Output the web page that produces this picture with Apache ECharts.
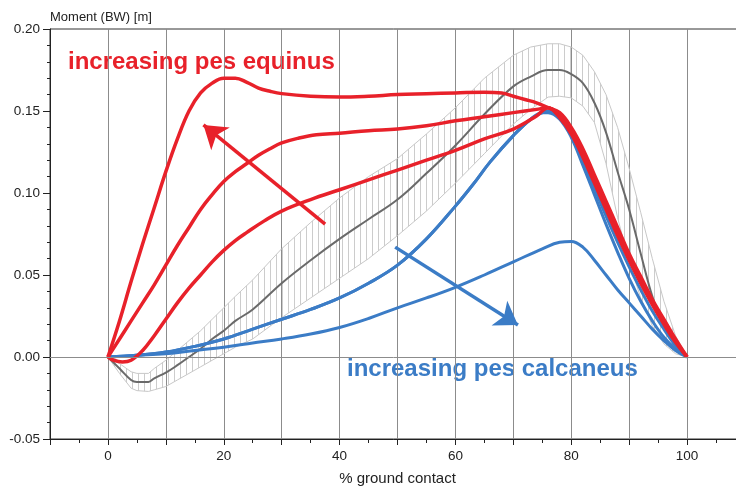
<!DOCTYPE html>
<html>
<head>
<meta charset="utf-8">
<script src="https://cdn.jsdelivr.net/npm/echarts@6/dist/echarts.min.js"></script>
<style>
  html, body { margin: 0; padding: 0; background: #fff; }
  #chart { width: 736px; height: 487px; }
</style>
</head>
<body>
<div id="chart"></div>
<script>
// x = % ground contact, y = moment (BW) [m]

// normal gait: mean and SD band
var normX = [0, 2, 4, 5, 7, 8, 10, 12, 14, 16, 18, 20, 22, 25, 30, 35, 40, 45, 50, 55, 60, 65, 70, 73, 76, 78, 80, 82, 84, 86, 88, 90, 92, 94, 96, 98, 100];
var normMean = [0, -0.007, -0.014, -0.0152, -0.0152, -0.013, -0.0095, -0.005, 0.000, 0.005, 0.011, 0.016, 0.022, 0.029, 0.045, 0.059, 0.072, 0.084, 0.096, 0.112, 0.129, 0.148, 0.165, 0.171, 0.175, 0.175, 0.1725, 0.167, 0.155, 0.137, 0.113, 0.090, 0.063, 0.037, 0.018, 0.007, 0];
var normLow = [0, -0.010, -0.019, -0.0205, -0.021, -0.020, -0.018, -0.014, -0.010, -0.006, -0.002, 0.002, 0.006, 0.011, 0.024, 0.036, 0.048, 0.060, 0.074, 0.089, 0.106, 0.124, 0.142, 0.151, 0.1585, 0.159, 0.158, 0.153, 0.143, 0.118, 0.085, 0.058, 0.036, 0.019, 0.008, 0.002, 0];
var normHigh = [0, -0.004, -0.009, -0.010, -0.010, -0.007, -0.002, 0.004, 0.010, 0.016, 0.023, 0.030, 0.037, 0.047, 0.066, 0.082, 0.097, 0.110, 0.121, 0.136, 0.152, 0.170, 0.184, 0.189, 0.191, 0.191, 0.189, 0.184, 0.174, 0.160, 0.140, 0.115, 0.088, 0.060, 0.034, 0.013, 0];

// pes equinus curves (red)
var equinus1X = [0, 2, 4, 6, 8, 10, 12, 14, 16, 18, 20, 22, 24, 26, 28, 30, 35, 40, 45, 50, 55, 60, 65, 68, 70, 72, 74, 76, 78, 80, 82, 84, 86, 88, 90, 92, 94, 96, 98, 100];
var equinus1Y = [0, 0.022, 0.046, 0.069, 0.091, 0.113, 0.133, 0.150, 0.161, 0.167, 0.170, 0.170, 0.1675, 0.164, 0.162, 0.1606, 0.159, 0.1585, 0.159, 0.160, 0.1605, 0.161, 0.1615, 0.161, 0.159, 0.157, 0.155, 0.152, 0.149, 0.140, 0.127, 0.111, 0.095, 0.079, 0.063, 0.049, 0.035, 0.023, 0.011, 0];
var equinus2X = [0, 2, 4, 6, 8, 10, 12, 14, 16, 18, 20, 22, 24, 26, 28, 30, 33, 36, 40, 45, 50, 55, 60, 65, 70, 74, 76, 78, 80, 82, 84, 86, 88, 90, 92, 94, 96, 98, 100];
var equinus2Y = [0, 0.011, 0.022, 0.033, 0.044, 0.056, 0.068, 0.079, 0.090, 0.099, 0.107, 0.113, 0.118, 0.123, 0.127, 0.1305, 0.1335, 0.1355, 0.1365, 0.138, 0.139, 0.141, 0.144, 0.1465, 0.149, 0.151, 0.152, 0.147, 0.138, 0.124, 0.108, 0.092, 0.076, 0.061, 0.047, 0.034, 0.022, 0.010, 0];
var equinus3X = [0, 1, 2.5, 4, 6, 8, 10, 12, 14, 16, 18, 20, 22, 24, 27, 30, 35, 40, 45, 50, 55, 60, 65, 70, 74, 76, 78, 80, 82, 84, 86, 88, 90, 92, 94, 96, 98, 100];
var equinus3Y = [0, -0.002, -0.003, -0.002, 0.004, 0.013, 0.023, 0.033, 0.042, 0.050, 0.058, 0.065, 0.071, 0.076, 0.083, 0.089, 0.096, 0.102, 0.108, 0.114, 0.120, 0.126, 0.133, 0.139, 0.147, 0.152, 0.146, 0.136, 0.122, 0.106, 0.090, 0.074, 0.059, 0.045, 0.032, 0.020, 0.009, 0];

// pes calcaneus curves (blue)
var calcaneusX = [0, 5, 10, 15, 20, 25, 30, 35, 40, 45, 50, 55, 60, 63, 66, 70, 73, 75, 76, 78, 80, 82, 84, 86, 88, 90, 92, 94, 96, 98, 100];
var calcaneus1Y = [0, 0.001, 0.003, 0.0065, 0.011, 0.017, 0.023, 0.029, 0.036, 0.045, 0.056, 0.072, 0.092, 0.105, 0.119, 0.135, 0.145, 0.149, 0.149, 0.145, 0.134, 0.117, 0.099, 0.081, 0.064, 0.048, 0.034, 0.022, 0.012, 0.005, 0];
var calcaneus3Y = [0, 0.001, 0.003, 0.0065, 0.011, 0.017, 0.023, 0.029, 0.036, 0.045, 0.056, 0.072, 0.092, 0.105, 0.119, 0.135, 0.145, 0.149, 0.150, 0.146, 0.136, 0.120, 0.103, 0.086, 0.070, 0.055, 0.041, 0.028, 0.017, 0.007, 0];
var calcaneus2X = [0, 5, 10, 15, 20, 25, 30, 35, 40, 45, 50, 55, 60, 65, 70, 75, 78, 80, 82, 84, 86, 88, 90, 92, 94, 96, 98, 100];
var calcaneus2Y = [0, 0.001, 0.002, 0.004, 0.006, 0.0085, 0.011, 0.014, 0.018, 0.0235, 0.030, 0.036, 0.0425, 0.050, 0.058, 0.066, 0.070, 0.0705, 0.067, 0.059, 0.050, 0.041, 0.033, 0.025, 0.017, 0.010, 0.004, 0];

// annotation arrows [x, y] tail and tip
var equinusArrow = [[37.5, 0.081], [16.5, 0.1415]];
var calcaneusArrow = [[49.6, 0.067], [70.8, 0.0195]];

var RED = '#e8212a';
var BLUE = '#3b7cc6';
var FONT = '"Liberation Sans", Arial, sans-serif';

function pairs(xs, ys) {
    return xs.map(function (x, i) { return [x, ys[i]]; });
}

// vertical hatching for the SD band
var hatch = document.createElement('canvas');
hatch.width = 6;
hatch.height = 4;
var hctx = hatch.getContext('2d');
hctx.fillStyle = '#cccccc';
hctx.fillRect(0, 0, 1, 4);

function curve(name, xs, ys, color, width, smooth) {
    return {
        name: name,
        type: 'line',
        data: pairs(xs, ys),
        showSymbol: false,
        smooth: smooth === undefined ? 0.4 : smooth,
        lineStyle: { color: color, width: width },
        silent: true
    };
}

var chart = echarts.init(document.getElementById('chart'));

var redTop = curve('equinus1', equinus1X, equinus1Y, RED, 3.5);
redTop.markLine = {
    silent: true,
    symbol: ['none', 'arrow'],
    symbolSize: 22,
    label: { show: false },
    data: [
        [{ coord: equinusArrow[0], lineStyle: { color: RED, width: 3.5, type: 'solid' } },
         { coord: equinusArrow[1] }],
        [{ coord: calcaneusArrow[0], lineStyle: { color: BLUE, width: 3.5, type: 'solid' } },
         { coord: calcaneusArrow[1] }]
    ]
};

var lowLine = curve('sdLow', normX, normLow, '#c8c8c8', 1, false);
lowLine.markLine = {
    silent: true,
    symbol: 'none',
    label: { show: false },
    lineStyle: { color: '#8c8c8c', width: 1, type: 'solid' },
    data: [{ yAxis: 0 }]
};

chart.setOption({
    animation: false,
    backgroundColor: '#fff',
    grid: {
        left: 50,
        right: -9,
        top: 29,
        bottom: 48,
        containLabel: false,
        outerBoundsMode: 'none',
        show: true,
        borderColor: '#333',
        borderWidth: 1
    },
    xAxis: {
        type: 'value',
        min: -10,
        max: 110,
        interval: 10,
        name: '% ground contact',
        nameLocation: 'middle',
        nameGap: 32,
        nameTextStyle: { fontFamily: FONT, fontSize: 15, color: '#222' },
        axisLine: { onZero: false, lineStyle: { color: '#222' } },
        axisTick: { length: 6, lineStyle: { color: '#222' } },
        minorTick: { show: true, splitNumber: 2, length: 4, lineStyle: { color: '#222' } },
        axisLabel: {
            margin: 10,
            fontFamily: FONT,
            fontSize: 13.5,
            color: '#222',
            formatter: function (v) { return v % 20 === 0 && v >= 0 && v <= 100 ? String(v) : ''; }
        },
        splitLine: { show: true, lineStyle: { color: '#8c8c8c', width: 1 } }
    },
    yAxis: {
        type: 'value',
        min: -0.05,
        max: 0.2,
        interval: 0.05,
        name: 'Moment (BW) [m]',
        nameLocation: 'end',
        nameGap: 5,
        nameTextStyle: { fontFamily: FONT, fontSize: 13, color: '#222', align: 'left', verticalAlign: 'bottom' },
        axisLine: { show: true, onZero: false, lineStyle: { color: '#222' } },
        axisTick: { show: true, length: 7, lineStyle: { color: '#222' } },
        minorTick: { show: true, splitNumber: 5, length: 3, lineStyle: { color: '#222' } },
        axisLabel: {
            margin: 10,
            fontFamily: FONT,
            fontSize: 13.5,
            color: '#222',
            formatter: function (v) { return v.toFixed(2); }
        },
        splitLine: { show: false }
    },
    graphic: [
        {
            type: 'text', left: 68, top: 50, silent: true,
            style: { text: 'increasing pes equinus', fill: RED, font: 'bold 24px ' + FONT }
        },
        {
            type: 'text', left: 347, top: 357, silent: true,
            style: { text: 'increasing pes calcaneus', fill: BLUE, font: 'bold 24px ' + FONT }
        }
    ],
    series: [
        {
            name: 'sdBand',
            type: 'custom',
            silent: true,
            data: [[0, 0]],
            encode: { x: 0, y: 1 },
            renderItem: function (params, api) {
                var pts = [];
                for (var i = 0; i < normX.length; i++) {
                    pts.push(api.coord([normX[i], normHigh[i]]));
                }
                for (var j = normX.length - 1; j >= 0; j--) {
                    pts.push(api.coord([normX[j], normLow[j]]));
                }
                return {
                    type: 'polygon',
                    shape: { points: pts },
                    style: { fill: { image: hatch, repeat: 'repeat' }, stroke: null }
                };
            }
        },
        lowLine,
        curve('sdHigh', normX, normHigh, '#c8c8c8', 1, false),
        curve('mean', normX, normMean, '#6a6a6a', 2),
        curve('calcaneus2', calcaneus2X, calcaneus2Y, BLUE, 3),
        curve('calcaneus1', calcaneusX, calcaneus1Y, BLUE, 3),
        curve('calcaneus3', calcaneusX, calcaneus3Y, BLUE, 3),
        curve('equinus3', equinus3X, equinus3Y, RED, 3.5),
        curve('equinus2', equinus2X, equinus2Y, RED, 3.5),
        redTop
    ]
});
</script>
</body>
</html>
